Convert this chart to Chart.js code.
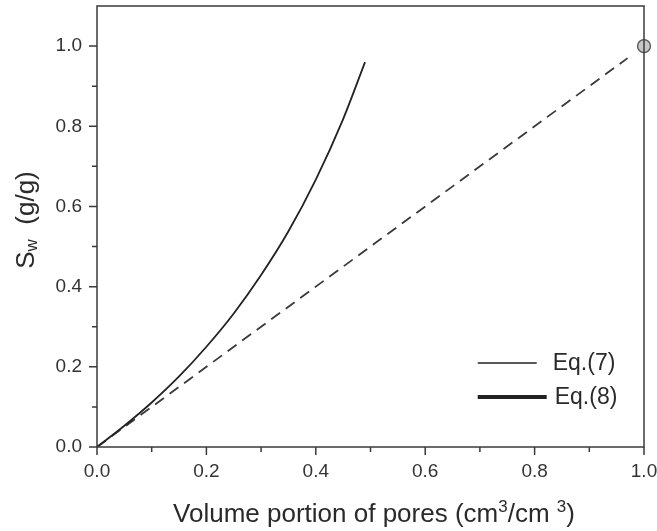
<!DOCTYPE html>
<html>
<head>
<meta charset="utf-8">
<script src="https://cdn.jsdelivr.net/npm/chart.js@4.4.1/dist/chart.umd.min.js"></script>
<style>
  html, body { margin: 0; padding: 0; background: #fff; }
  #wrap { width: 657px; height: 531px; }
</style>
</head>
<body>
<div id="wrap"><canvas id="sw"></canvas></div>
<script>
// values
const poreX = [0, 0.05, 0.1, 0.15, 0.2, 0.25, 0.3, 0.35, 0.4, 0.45, 0.49];
const swEq7 = [0, 0.053, 0.111, 0.176, 0.25, 0.333, 0.429, 0.538, 0.667, 0.818, 0.96];
const lineX = [0, 0.97];
const lineY = [0, 0.97];
const endX = [1.0];
const endY = [1.0];
const xTicks = [0, 0.2, 0.4, 0.6, 0.8, 1.0];
const yTicks = [0, 0.2, 0.4, 0.6, 0.8, 1.0];
const legendLabels = ["Eq.(7)", "Eq.(8)"];

const ink = "#3a3a3a";
const toPts = (xs, ys) => xs.map((x, i) => ({ x: x, y: ys[i] }));

// frame, minor/major ticks, titles, legend
const decor = {
    id: "decor",
    afterDraw(chart) {
        const ctx = chart.ctx;
        const a = chart.chartArea;
        const sx = chart.scales.x, sy = chart.scales.y;
        ctx.save();
        ctx.strokeStyle = ink;
        ctx.lineWidth = 1.5;
        ctx.strokeRect(a.left, a.top, a.right - a.left, a.bottom - a.top);

        ctx.beginPath();
        for (let v = 0; v <= 1.0001; v += 0.1) {
            const major = Math.round(v * 10) % 2 === 0;
            const px = sx.getPixelForValue(v);
            ctx.moveTo(px, a.bottom);
            ctx.lineTo(px, a.bottom + (major ? 8 : 5));
            const py = sy.getPixelForValue(v);
            ctx.moveTo(a.left, py);
            ctx.lineTo(a.left - (major ? 8 : 5), py);
        }
        ctx.stroke();

        // x title
        ctx.fillStyle = "#2a2a2a";
        ctx.textBaseline = "alphabetic";
        const big = "26px 'Liberation Sans', Arial, sans-serif";
        const small = "17px 'Liberation Sans', Arial, sans-serif";
        const parts = [["Volume portion of pores (cm", big, 0], ["3", small, -10], ["/cm ", big, 0], ["3", small, -10], [")", big, 0]];
        let w = 0;
        parts.forEach(p => { ctx.font = p[1]; w += ctx.measureText(p[0]).width; });
        let cx = 374 - w / 2;
        parts.forEach(p => {
            ctx.font = p[1];
            ctx.fillText(p[0], cx, 522 + p[2]);
            cx += ctx.measureText(p[0]).width;
        });

        // y title
        ctx.save();
        ctx.translate(34, 220);
        ctx.rotate(-Math.PI / 2);
        const yparts = [["S", big, 0], ["w", small, 3], ["  (g/g)", big, 0]];
        w = 0;
        yparts.forEach(p => { ctx.font = p[1]; w += ctx.measureText(p[0]).width; });
        cx = -w / 2;
        yparts.forEach(p => {
            ctx.font = p[1];
            ctx.fillText(p[0], cx, p[2]);
            cx += ctx.measureText(p[0]).width;
        });
        ctx.restore();

        // legend
        const lx = a.left + 0.696 * (a.right - a.left);
        ctx.strokeStyle = "#222";
        ctx.lineWidth = 1.3;
        ctx.beginPath(); ctx.moveTo(lx, 363); ctx.lineTo(lx + 59, 363); ctx.stroke();
        ctx.lineWidth = 4;
        ctx.beginPath(); ctx.moveTo(lx, 397); ctx.lineTo(lx + 69, 397); ctx.stroke();
        ctx.font = "23px 'Liberation Sans', Arial, sans-serif";
        ctx.textBaseline = "middle";
        ctx.fillText(legendLabels[0], lx + 75, 364);
        ctx.fillText(legendLabels[1], lx + 77, 398);
        ctx.restore();
    }
};

new Chart(document.getElementById("sw"), {
    type: "scatter",
    data: {
        datasets: [{
            label: "Eq.(7)",
            data: toPts(poreX, swEq7),
            showLine: true,
            borderColor: "#222",
            borderWidth: 1.8,
            pointRadius: 0,
            cubicInterpolationMode: "monotone"
        }, {
            label: "linear",
            data: toPts(lineX, lineY),
            showLine: true,
            borderColor: "#3a3a3a",
            borderWidth: 1.8,
            borderDash: [11, 7],
            pointRadius: 0
        }, {
            label: "end",
            data: toPts(endX, endY),
            pointRadius: 6.5,
            pointBackgroundColor: "#c6c6c6",
            pointBorderColor: "#555",
            pointBorderWidth: 1.3,
            clip: false
        }]
    },
    options: {
        responsive: true,
        maintainAspectRatio: false,
        animation: false,
        layout: { autoPadding: false, padding: { top: 6, right: 13, left: 0, bottom: 0 } },
        plugins: { legend: { display: false }, tooltip: { enabled: false } },
        scales: {
            x: {
                min: 0, max: 1,
                afterBuildTicks: s => { s.ticks = xTicks.map(v => ({ value: v })); },
                afterFit: s => { s.height = 84; s.paddingLeft = 0; s.paddingRight = 0; },
                grid: { display: false, drawTicks: false },
                border: { display: false },
                ticks: {
                    padding: 13,
                    color: "#333",
                    font: { family: "'Liberation Sans', Arial, sans-serif", size: 19 },
                    callback: v => v.toFixed(1)
                }
            },
            y: {
                min: 0, max: 1.1,
                afterBuildTicks: s => { s.ticks = yTicks.map(v => ({ value: v })); },
                afterFit: s => { s.width = 97; s.paddingTop = 0; s.paddingBottom = 0; },
                grid: { display: false, drawTicks: false },
                border: { display: false },
                ticks: {
                    padding: 15,
                    color: "#333",
                    font: { family: "'Liberation Sans', Arial, sans-serif", size: 19 },
                    callback: v => v.toFixed(1)
                }
            }
        }
    },
    plugins: [decor]
});
</script>
</body>
</html>
